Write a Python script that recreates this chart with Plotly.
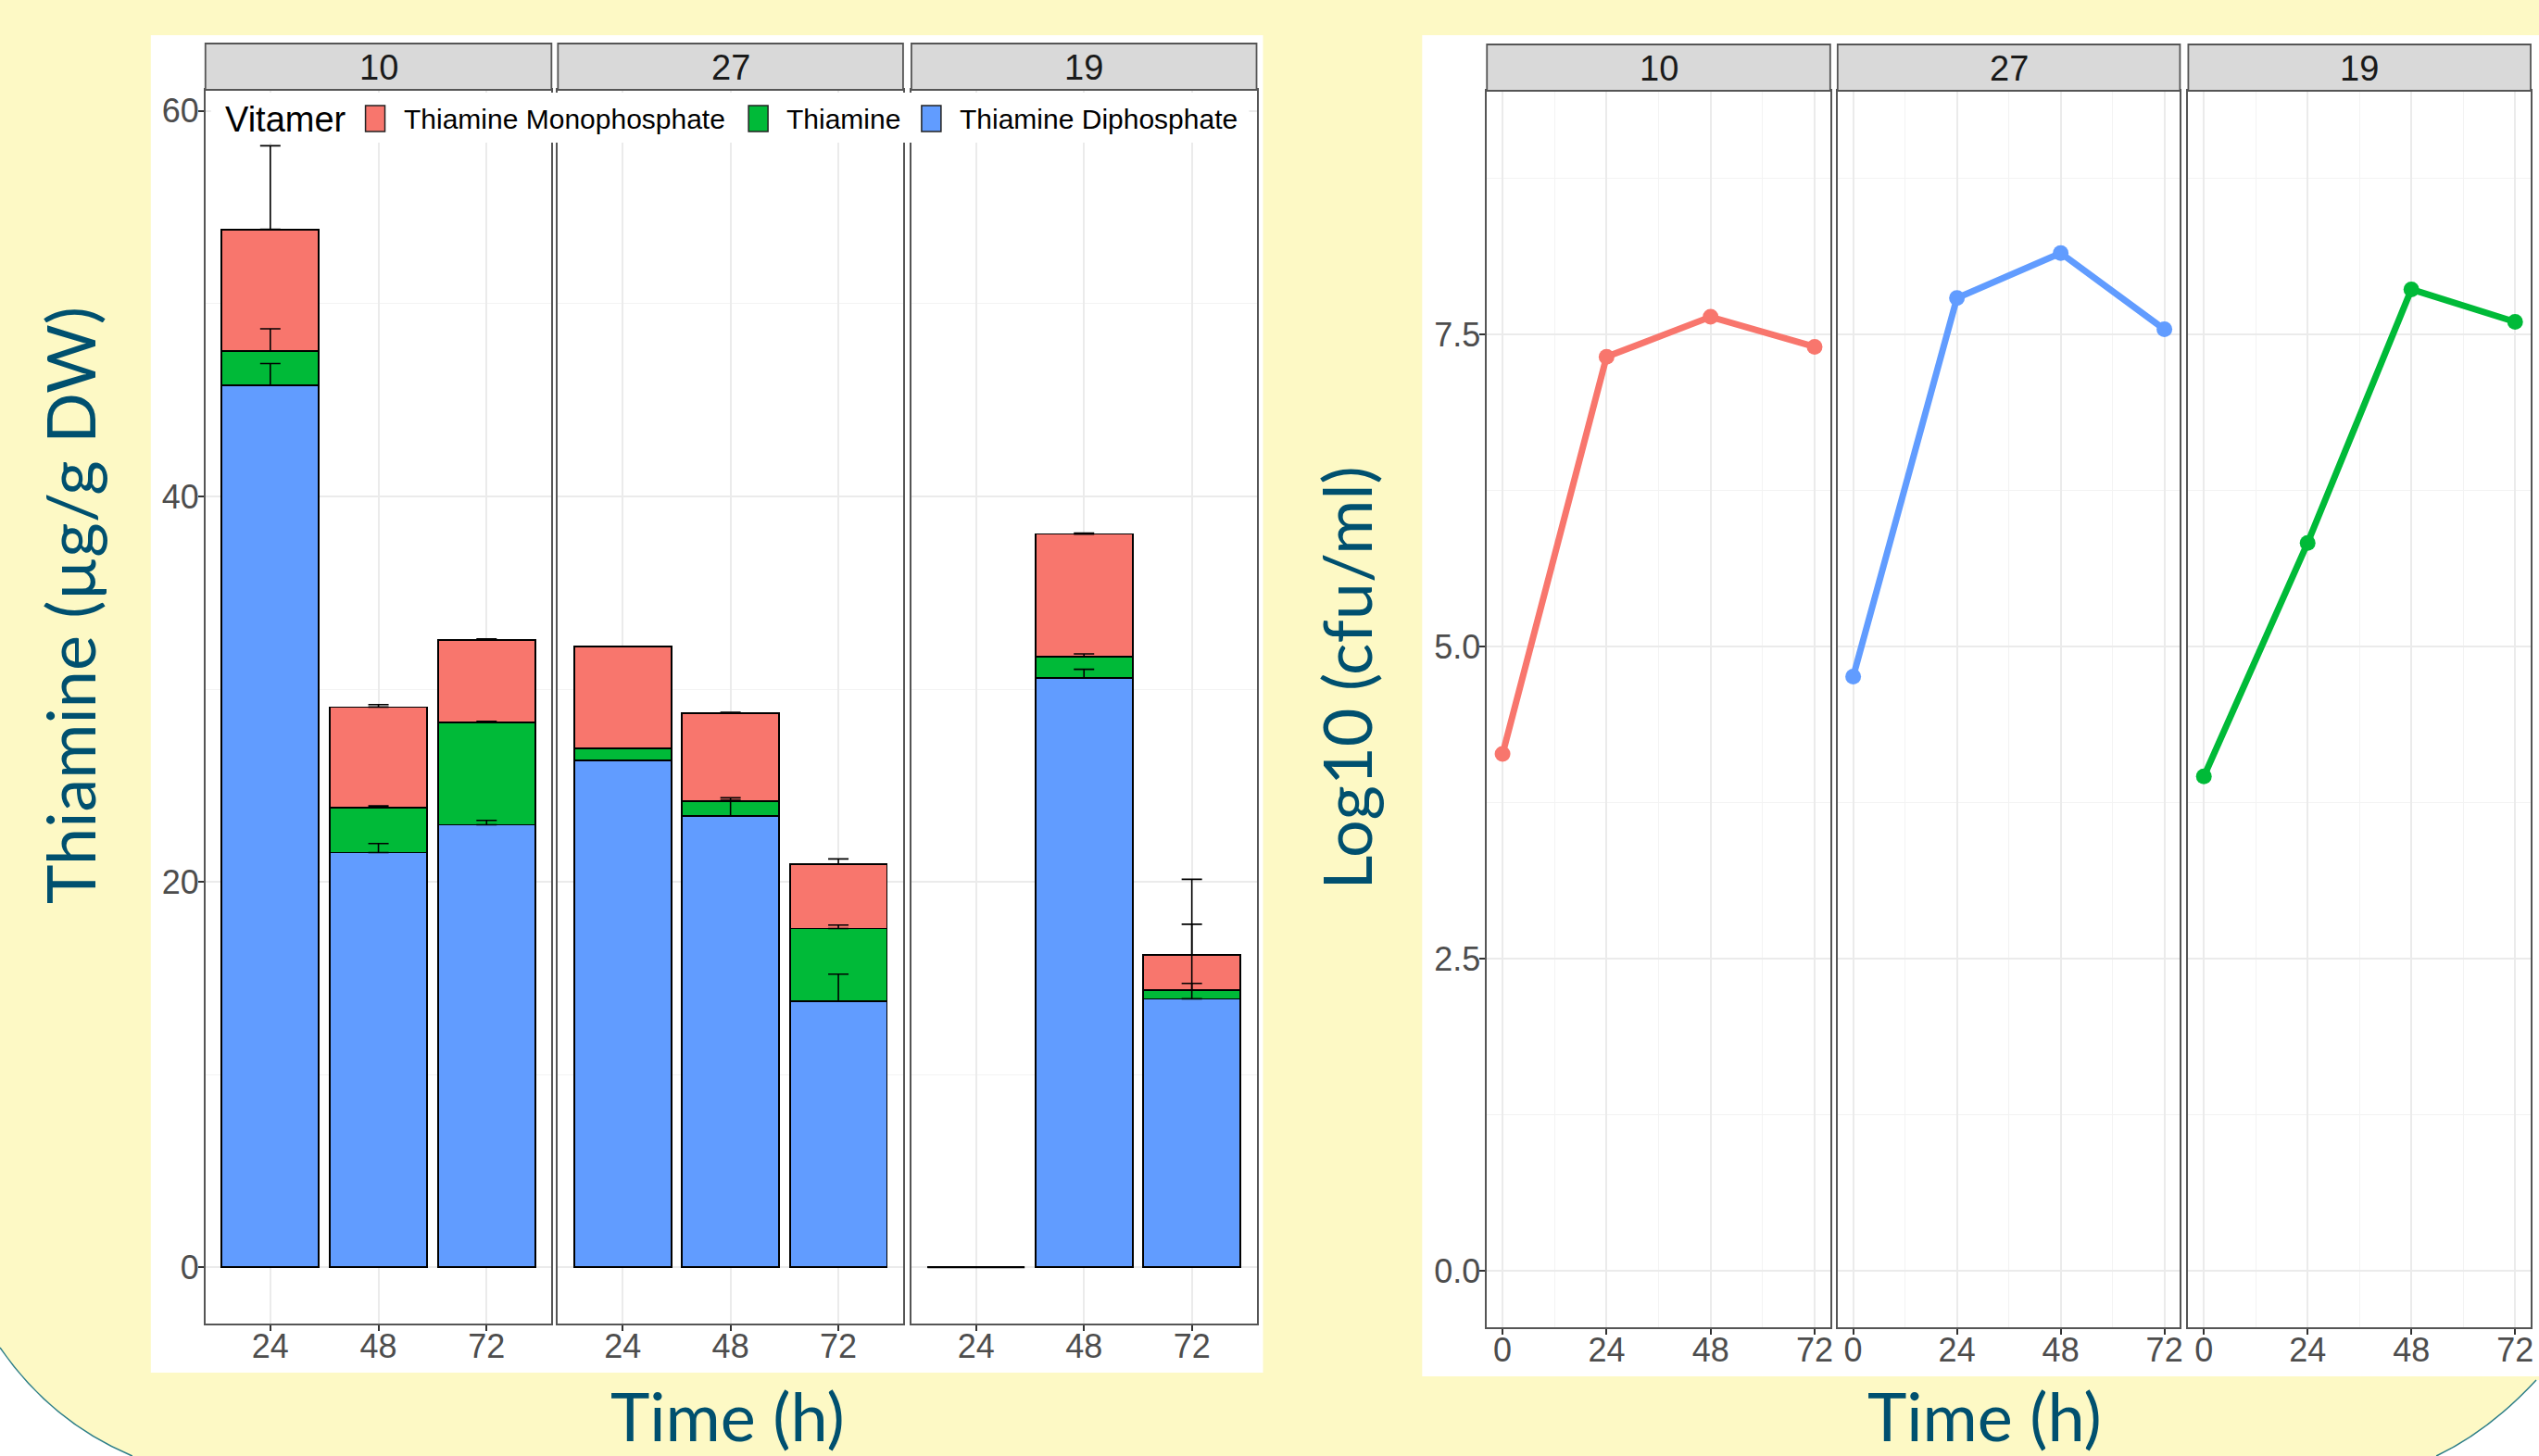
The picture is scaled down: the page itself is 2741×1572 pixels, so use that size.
import numpy as np
import plotly.graph_objects as go

# ---------------- data ----------------
strains = ["10", "27", "19"]
bar_times = [24, 48, 72]
vitamer_names = ["Thiamine Monophosphate", "Thiamine", "Thiamine Diphosphate"]
vitamer_colors = ["#F8766D", "#00BA38", "#619CFF"]

# rows = strains (10, 27, 19), columns = time (24, 48, 72) ; µg/g DW
tdp_values = [[45.77, 21.52, 22.96],
              [26.31, 23.43, 13.81],
              [0.00, 30.59, 13.93]]
thiamine_values = [[1.78, 2.33, 5.33],
                   [0.63, 0.75, 3.77],
                   [0.00, 1.09, 0.46]]
tmp_values = [[6.31, 5.22, 4.27],
              [5.27, 4.57, 3.35],
              [0.00, 6.37, 1.81]]

tdp_sd = [[1.13, 0.47, 0.23],
          [0.00, 0.93, 1.40],
          [None, 0.44, 0.80]]
thiamine_sd = [[1.15, 0.09, 0.04],
               [0.00, 0.05, 0.18],
               [None, 0.15, 3.41]]
tmp_sd = [[4.34, 0.13, 0.05],
          [0.00, 0.05, 0.26],
          [None, 0.05, 3.93]]

cfu_times = [0, 24, 48, 72]
cfu_log10 = [[4.14, 7.32, 7.64, 7.40],
             [4.76, 7.79, 8.15, 7.54],
             [3.96, 5.83, 7.86, 7.60]]
strain_colors = ["#F8766D", "#619CFF", "#00BA38"]

# ---------------- layout geometry (pixels) ----------------
W, H = 2741, 1572
def px(p):
    return p / W
def py(p):
    return 1 - p / H

L_X = [(222, 596), (603, 976), (985, 1358)]
L_Y = (97, 1429)
L_STRIP = (47, 97)
R_X = [(1607, 1978), (1986, 2356), (2365, 2735)]
R_Y = (98, 1433)
R_STRIP = (48, 98)

BG = "#FDF9C5"
TEAL = "#00506F"
SANS = "Liberation Sans, Arial, sans-serif"
TICKFONT = dict(family=SANS, size=36, color="#4D4D4D")
TITLEFONT = dict(family="Lato, sans-serif", size=72, color=TEAL)
GRID = "#EBEBEB"
MINOR = "#F3F3F3"
BORDER = "#555555"
X_STANDOFF = -14
Y_STANDOFF = -8

fig = go.Figure()
layout = dict(
    width=W, height=H, margin=dict(l=0, r=0, t=0, b=0),
    paper_bgcolor=BG, plot_bgcolor="white", barmode="stack",
    showlegend=False, shapes=[], annotations=[],
)

bar_w = 0.9 * (bar_times[1] - bar_times[0])
stack_vals = [tdp_values, thiamine_values, tmp_values]
stack_sds = [tdp_sd, thiamine_sd, tmp_sd]
stack_cols = [vitamer_colors[2], vitamer_colors[1], vitamer_colors[0]]

for i, s in enumerate(strains):
    ax = "" if i == 0 else str(i + 1)
    cum = np.zeros(len(bar_times))
    tops = []
    for vals, col in zip(stack_vals, stack_cols):
        v = np.array(vals[i], dtype=float)
        fig.add_trace(go.Bar(x=bar_times, y=v, width=bar_w,
                             marker=dict(color=col, line=dict(color="black", width=1.8)),
                             xaxis="x" + ax, yaxis="y" + ax, hoverinfo="skip"))
        cum = cum + v
        tops.append(cum.copy())
    for t, tot in zip(bar_times, cum):
        if tot == 0:
            fig.add_trace(go.Scatter(x=[t - bar_w / 2, t + bar_w / 2], y=[0, 0], mode="lines",
                                     line=dict(color="black", width=1.8),
                                     xaxis="x" + ax, yaxis="y" + ax, hoverinfo="skip"))
    for top, sds in zip(tops, stack_sds):
        xs, ys, es = [], [], []
        for t, yv, e in zip(bar_times, top, sds[i]):
            if e is not None:
                xs.append(t); ys.append(yv); es.append(e)
        fig.add_trace(go.Scatter(x=xs, y=ys, mode="markers", marker=dict(size=1, opacity=0),
                                 error_y=dict(type="data", symmetric=False, array=es,
                                              arrayminus=[0] * len(es), color="black",
                                              thickness=1.6, width=11),
                                 xaxis="x" + ax, yaxis="y" + ax, hoverinfo="skip"))
    x0, x1 = L_X[i]
    layout["xaxis" + ax] = dict(
        domain=[px(x0), px(x1)], anchor="y" + ax, range=[bar_times[0] - 14.4, bar_times[-1] + 14.4],
        tickmode="array", tickvals=bar_times, ticktext=[str(t) for t in bar_times],
        showgrid=True, gridcolor=GRID, gridwidth=2, zeroline=False,
        showline=True, mirror=True, linecolor=BORDER, linewidth=1.5,
        ticks="outside", ticklen=6, tickwidth=1.5, tickcolor="#333333",
        ticklabelstandoff=X_STANDOFF, tickfont=TICKFONT, fixedrange=True)
    layout["yaxis" + ax] = dict(
        domain=[py(L_Y[1]), py(L_Y[0])], anchor="x" + ax, range=[-2.92, 61.1],
        tickmode="array", tickvals=[0, 20, 40, 60], ticktext=["0", "20", "40", "60"],
        showticklabels=(i == 0), ticks="outside" if i == 0 else "",
        ticklen=6, tickwidth=1.5, tickcolor="#333333", tickfont=TICKFONT,
        ticklabelstandoff=Y_STANDOFF,
        showgrid=True, gridcolor=GRID, gridwidth=2, zeroline=False,
        minor=dict(tickvals=[10, 30, 50], showgrid=True, gridcolor=MINOR, gridwidth=1, ticks=""),
        showline=True, mirror=True, linecolor=BORDER, linewidth=1.5, fixedrange=True)

for i, s in enumerate(strains):
    ax = str(i + 4)
    fig.add_trace(go.Scatter(x=cfu_times, y=cfu_log10[i], mode="lines+markers",
                             line=dict(color=strain_colors[i], width=7),
                             marker=dict(color=strain_colors[i], size=17),
                             xaxis="x" + ax, yaxis="y" + ax, hoverinfo="skip"))
    x0, x1 = R_X[i]
    layout["xaxis" + ax] = dict(
        domain=[px(x0), px(x1)], anchor="y" + ax, range=[-3.6, 75.6],
        tickmode="array", tickvals=cfu_times, ticktext=[str(t) for t in cfu_times],
        showgrid=True, gridcolor=GRID, gridwidth=2, zeroline=False,
        minor=dict(tickvals=[12, 36, 60], showgrid=True, gridcolor=MINOR, gridwidth=1, ticks=""),
        showline=True, mirror=True, linecolor=BORDER, linewidth=1.5,
        ticks="outside", ticklen=6, tickwidth=1.5, tickcolor="#333333",
        ticklabelstandoff=X_STANDOFF, tickfont=TICKFONT, fixedrange=True)
    layout["yaxis" + ax] = dict(
        domain=[py(R_Y[1]), py(R_Y[0])], anchor="x" + ax, range=[-0.45, 9.45],
        tickmode="array", tickvals=[0, 2.5, 5, 7.5], ticktext=["0.0", "2.5", "5.0", "7.5"],
        showticklabels=(i == 0), ticks="outside" if i == 0 else "",
        ticklen=6, tickwidth=1.5, tickcolor="#333333", tickfont=TICKFONT,
        ticklabelstandoff=Y_STANDOFF,
        showgrid=True, gridcolor=GRID, gridwidth=2, zeroline=False,
        minor=dict(tickvals=[1.25, 3.75, 6.25, 8.75], showgrid=True, gridcolor=MINOR, gridwidth=1, ticks=""),
        showline=True, mirror=True, linecolor=BORDER, linewidth=1.5, fixedrange=True)

shapes = layout["shapes"]
ann = layout["annotations"]

# white chart backgrounds
shapes.append(dict(type="rect", xref="paper", yref="paper", layer="below",
                   x0=px(163), x1=px(1365), y0=py(1482), y1=py(38),
                   fillcolor="white", line=dict(width=0)))
shapes.append(dict(type="rect", xref="paper", yref="paper", layer="below",
                   x0=px(1537), x1=px(W + 5), y0=py(1486), y1=py(38),
                   fillcolor="white", line=dict(width=0)))

# rounded poster corners at the bottom
left_curve = "M {:.5f} {:.5f} Q {:.5f} {:.5f} {:.5f} {:.5f}".format(
    px(0), py(1455), px(55), py(1535), px(143), py(1572))
right_curve = "M {:.5f} {:.5f} Q {:.5f} {:.5f} {:.5f} {:.5f}".format(
    px(W), py(1490), px(2690), py(1545), px(2633), py(1572))
shapes.append(dict(type="path", xref="paper", yref="paper", layer="above",
                   path=left_curve + " L {:.5f} {:.5f} L {:.5f} {:.5f} Z".format(px(-5), py(1580), px(-5), py(1455)),
                   fillcolor="white", line=dict(width=0)))
shapes.append(dict(type="path", xref="paper", yref="paper", layer="above",
                   path=right_curve + " L {:.5f} {:.5f} L {:.5f} {:.5f} Z".format(px(W + 5), py(1580), px(W + 5), py(1490)),
                   fillcolor="white", line=dict(width=0)))
shapes.append(dict(type="path", xref="paper", yref="paper", layer="above",
                   path=left_curve, line=dict(color="#2E7F88", width=1.5)))
shapes.append(dict(type="path", xref="paper", yref="paper", layer="above",
                   path=right_curve, line=dict(color="#2E7F88", width=1.5)))

# facet strips
for X, STRIP in ((L_X, L_STRIP), (R_X, R_STRIP)):
    for (x0, x1), s in zip(X, strains):
        shapes.append(dict(type="rect", xref="paper", yref="paper",
                           x0=px(x0), x1=px(x1), y0=py(STRIP[1]), y1=py(STRIP[0]),
                           fillcolor="#D9D9D9", line=dict(color=BORDER, width=1.8)))
        ann.append(dict(xref="paper", yref="paper", x=px((x0 + x1) / 2), y=py((STRIP[0] + STRIP[1]) / 2 + 1),
                        text=s, showarrow=False, xanchor="center", yanchor="middle",
                        font=dict(family=SANS, size=38, color="#1A1A1A")))

# legend (inside top of left chart)
shapes.append(dict(type="rect", xref="paper", yref="paper",
                   x0=px(228), x1=px(1350), y0=py(154), y1=py(100),
                   fillcolor="white", line=dict(width=0)))
ann.append(dict(xref="paper", yref="paper", x=px(241), y=py(129), text="Vitamer", showarrow=False,
                xanchor="left", yanchor="middle",
                font=dict(family=SANS, size=38, color="black")))
key_x = [395, 809, 996]
for kx, name, col in zip(key_x, vitamer_names, vitamer_colors):
    shapes.append(dict(type="rect", xref="paper", yref="paper",
                       x0=px(kx), x1=px(kx + 21), y0=py(142), y1=py(114),
                       fillcolor=col, line=dict(color="#222222", width=1.5)))
    ann.append(dict(xref="paper", yref="paper", x=px(kx + 39), y=py(128), text=name, showarrow=False,
                    xanchor="left", yanchor="middle",
                    font=dict(family=SANS, size=30, color="black")))

# axis titles
ann.append(dict(xref="paper", yref="paper", x=px(75), y=py(653), text="Thiamine (µg/g DW)",
                textangle=-90, showarrow=False, xanchor="center", yanchor="middle", font=TITLEFONT))
ann.append(dict(xref="paper", yref="paper", x=px(1455), y=py(732), text="Log10 (cfu/ml)",
                textangle=-90, showarrow=False, xanchor="center", yanchor="middle", font=TITLEFONT))
ann.append(dict(xref="paper", yref="paper", x=px(786), y=py(1528), text="Time (h)",
                showarrow=False, xanchor="center", yanchor="middle", font=TITLEFONT))
ann.append(dict(xref="paper", yref="paper", x=px(2145), y=py(1528), text="Time (h)",
                showarrow=False, xanchor="center", yanchor="middle", font=TITLEFONT))

fig.update_layout(**layout)
fig.write_html("out.html", config={"displayModeBar": False},
               post_script="document.body.style.margin='0';document.body.style.padding='0';"
                           "document.body.style.overflow='hidden';")
